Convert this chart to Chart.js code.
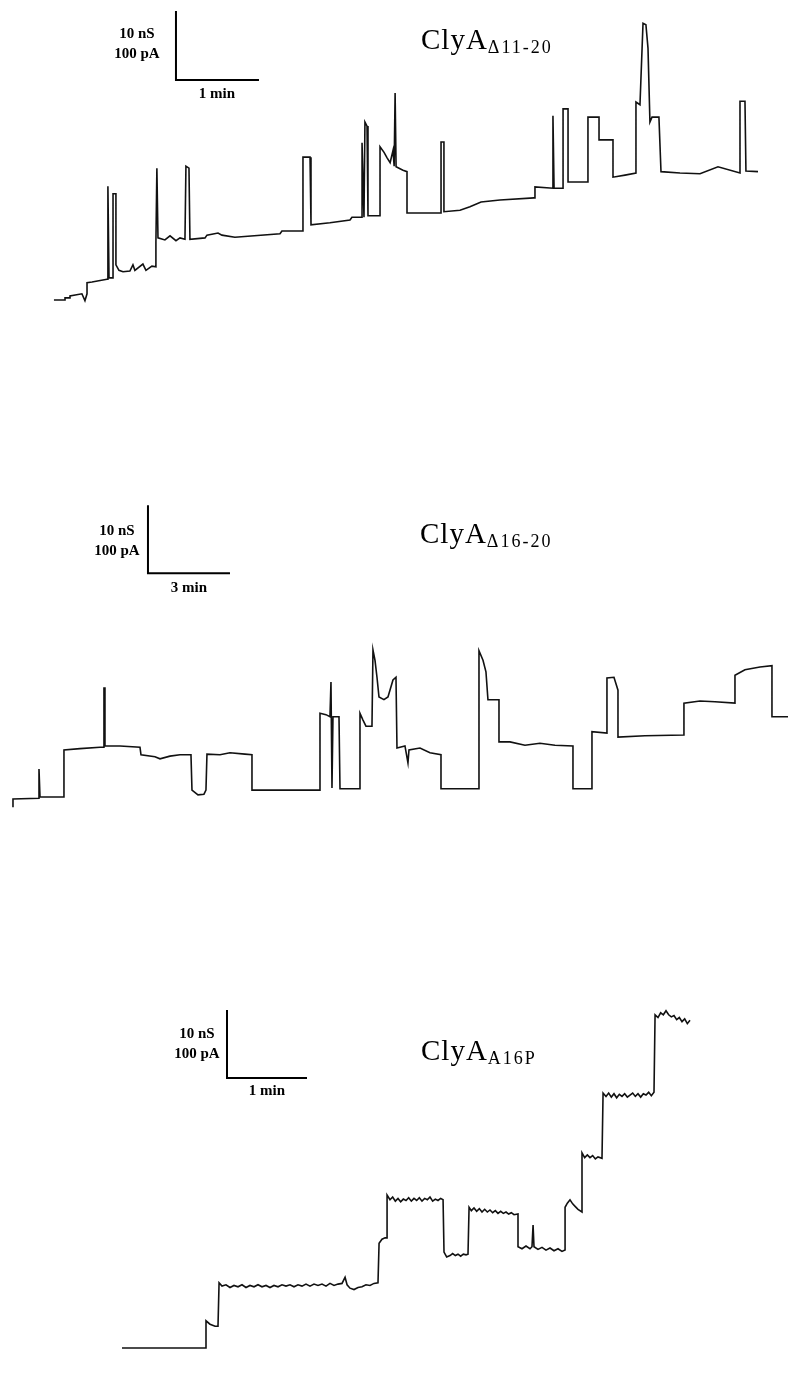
<!DOCTYPE html>
<html>
<head>
<meta charset="utf-8">
<script src="https://cdn.jsdelivr.net/npm/chart.js@4"></script>
<style>
  body { margin: 0; background: #fff; }
  #page { position: relative; width: 788px; height: 1378px; overflow: hidden; }
  canvas { position: absolute; left: 0; }
  .lbl { position: absolute; width: 80px; text-align: center; font: bold 15px "Liberation Serif", serif; line-height: 16px; color: #000; }
  .title { position: absolute; font: 29px "Liberation Serif", serif; line-height: 28px; color: #000; letter-spacing: 1px; white-space: nowrap; }
  .title sub { font-size: 18px; vertical-align: -4px; letter-spacing: 2px; }
</style>
</head>
<body>
<div id="page">
  <canvas id="chartD1120" width="788" height="340" style="top:0px"></canvas>
  <canvas id="chartD1620" width="788" height="360" style="top:480px"></canvas>
  <canvas id="chartA16P" width="788" height="418" style="top:960px"></canvas>

  <div class="lbl" style="left:97px; top:25px">10 nS</div>
  <div class="lbl" style="left:97px; top:45px">100 pA</div>
  <div class="lbl" style="left:177px; top:85px">1 min</div>
  <div class="title" style="left:421px; top:25px">ClyA<sub>Δ11-20</sub></div>

  <div class="lbl" style="left:77px; top:522px">10 nS</div>
  <div class="lbl" style="left:77px; top:542px">100 pA</div>
  <div class="lbl" style="left:149px; top:579px">3 min</div>
  <div class="title" style="left:420px; top:519px">ClyA<sub>Δ16-20</sub></div>

  <div class="lbl" style="left:157px; top:1025px">10 nS</div>
  <div class="lbl" style="left:157px; top:1045px">100 pA</div>
  <div class="lbl" style="left:227px; top:1082px">1 min</div>
  <div class="title" style="left:421px; top:1036px">ClyA<sub>A16P</sub></div>
</div>
<script>
// Conductance traces: time in s, conductance in nS
const timeD1120 = [
    0, 8.0, 8.0, 11.6, 11.6, 20.2, 22.4, 23.9, 23.9, 27.5,
    38.3, 39.0, 39.0, 39.8, 42.7, 42.7, 44.8, 44.8, 47.0, 49.9,
    54.9, 57.1, 58.5, 64.3, 66.5, 70.8, 73.7, 73.7, 74.4, 75.2,
    80.2, 83.9, 88.2, 91.1, 94.7, 95.4, 97.6, 98.3, 109.2, 110.6,
    118.6, 121.4, 130.8, 163.4, 164.8, 180.0, 180.0, 185.1, 185.8, 199.5,
    214.0, 215.4, 222.7, 222.7, 224.1, 224.8, 226.3, 227.0, 235.7, 235.7,
    238.6, 240.8, 243.0, 245.1, 245.9, 246.6, 247.3, 252.3, 255.2, 255.2,
    279.8, 279.8, 281.9, 281.9, 293.5, 300.7, 308.7, 322.4, 347.0, 347.7,
    360.7, 360.7, 361.5, 368.0, 368.0, 371.6, 371.6, 386.0, 386.0, 394.0,
    394.0, 404.1, 404.1, 412.8, 420.7, 420.7, 423.6, 425.8, 427.9, 429.4,
    430.8, 432.3, 437.3, 438.8, 452.5, 467.0, 480.0, 495.9, 495.9, 499.5, 500.2, 508.9
];
const condD1120 = [
    0, 0, 0.3, 0.3, 0.6, 0.9, -0.1, 0.9, 2.5, 2.6,
    3.0, 3.0, 16.5, 3.2, 3.2, 15.4, 15.4, 5.1, 4.3, 4.1,
    4.2, 5.1, 4.3, 5.2, 4.3, 4.9, 4.8, 8.4, 19.1, 9.0,
    8.7, 9.3, 8.6, 9.0, 8.8, 19.4, 19.1, 8.8, 9.0, 9.4,
    9.7, 9.4, 9.1, 9.6, 10.0, 10.0, 20.7, 20.7, 10.9, 11.2,
    11.6, 12.0, 12.0, 22.8, 12.0, 25.8, 25.2, 12.2, 12.2, 22.2,
    21.4, 20.6, 19.9, 21.7, 19.4, 30.0, 19.3, 18.8, 18.6, 12.6,
    12.6, 22.9, 22.9, 12.8, 13.0, 13.5, 14.2, 14.5, 14.8, 16.4,
    16.2, 26.7, 16.2, 16.2, 27.7, 27.7, 17.1, 17.1, 26.5, 26.5,
    23.2, 23.2, 17.8, 18.1, 18.4, 28.7, 28.3, 40.1, 39.9, 36.5,
    25.8, 26.5, 26.5, 18.6, 18.4, 18.3, 19.3, 18.4, 28.8, 28.8, 18.7, 18.6
];

const timeD1620 = [
    0, 0, 57.1, 57.1, 59.3, 111.9, 111.9, 147.1, 191.0, 199.7,
    199.7, 201.9, 201.9, 234.9, 278.8, 281.0, 311.7, 322.7, 344.6, 366.6,
    390.7, 392.9, 406.1, 419.2, 423.6, 425.8, 454.4, 476.3, 509.2, 524.6,
    524.6, 673.9, 673.9, 687.0, 695.8, 698.0, 700.2, 702.4, 715.6, 717.8,
    761.7, 761.7, 768.3, 774.8, 788.0, 790.2, 794.6, 799.0, 803.4, 814.3,
    823.1, 834.1, 840.7, 842.9, 860.4, 867.0, 869.2, 893.4, 915.3, 939.5,
    939.5, 1022.9, 1022.9, 1031.7, 1038.2, 1042.6, 1066.8, 1066.8, 1090.9, 1123.8,
    1156.7, 1189.7, 1229.2, 1229.2, 1270.9, 1270.9, 1303.8, 1303.8, 1319.2, 1328.0,
    1328.0, 1387.2, 1472.8, 1472.8, 1508.0, 1540.9, 1584.8, 1584.8, 1606.7, 1639.7, 1666.0, 1666.0, 1701.2
];
const condD1620 = [
    -1.2, 0, 0.1, 4.4, 0.3, 0.3, 7.2, 7.4, 7.6, 7.6,
    16.3, 16.3, 7.8, 7.8, 7.6, 6.5, 6.2, 5.9, 6.3, 6.5,
    6.5, 1.3, 0.6, 0.7, 1.3, 6.6, 6.5, 6.8, 6.6, 6.5,
    1.3, 1.3, 12.6, 12.4, 12.1, 17.2, 1.6, 12.1, 12.1, 1.5,
    1.5, 12.6, 11.6, 10.7, 10.7, 21.9, 20.4, 17.9, 15.0, 14.6,
    15.0, 17.5, 17.9, 7.5, 7.8, 5.3, 7.2, 7.5, 6.8, 6.5,
    1.5, 1.5, 21.8, 20.4, 18.7, 14.6, 14.6, 8.4, 8.4, 7.9,
    8.2, 7.9, 7.8, 1.5, 1.5, 9.9, 9.7, 17.8, 17.9, 16.0,
    9.1, 9.3, 9.4, 14.1, 14.4, 14.3, 14.1, 18.2, 19.0, 19.4, 19.6, 12.1, 12.1
];

const timeA16P = [
    0, 63, 63, 66, 69.8, 72,
    72.8, 75, 78, 81, 84, 87, 90, 93, 96, 99, 102, 105, 108, 111, 114, 117, 120, 123, 126, 129,
    132, 135, 138, 141, 144, 147, 150, 153, 156, 159, 162, 165, 167.3, 168.8, 171, 174, 177, 180,
    183, 186, 189, 192,
    192.8, 195, 197.3, 198.8,
    198.8, 201, 203, 205, 207, 209, 211, 213, 215, 217, 219, 221, 223, 225, 227, 229, 231, 233,
    235, 237, 239, 240.8,
    241.5, 243.5, 246, 248, 250, 252, 254, 256, 258, 259.5,
    260.3, 262, 264, 266, 268, 270, 272, 274, 276, 278, 280, 282, 284, 286, 288, 290, 292, 294, 297,
    297, 300, 303, 306, 307.5, 308.3, 309, 312, 315, 318, 321, 324, 327, 330, 332.3,
    332.3, 334, 336, 338, 340, 342, 345,
    345, 347, 349, 351, 353, 355, 357, 360,
    360.8, 363, 365, 367, 369, 371, 373, 375, 377, 379, 381, 383, 385, 387, 389, 391, 393, 395, 397, 399,
    399.8, 402, 404, 406, 408, 410, 412, 414, 416, 418, 420, 422, 424, 426
];
const condA16P = [
    0, 0, 4.0, 3.5, 3.2, 3.2,
    9.6, 9.1, 9.3, 8.9, 9.2, 9.0, 9.3, 8.9, 9.2, 9.0, 9.3, 9.0, 9.2, 8.9, 9.2, 9.0, 9.3, 9.1, 9.3, 9.0,
    9.3, 9.1, 9.4, 9.1, 9.4, 9.2, 9.4, 9.1, 9.5, 9.2, 9.4, 9.5, 10.4, 9.3, 8.8, 8.6, 8.9, 9.0,
    9.3, 9.2, 9.5, 9.6,
    15.4, 16.0, 16.2, 16.2,
    22.5, 21.8, 22.2, 21.6, 22.0, 21.5, 21.9, 21.7, 22.1, 21.6, 22.0, 21.7, 22.1, 21.6, 22.0, 21.8, 22.2, 21.6,
    21.9, 21.7, 22.0, 21.8,
    14.1, 13.4, 13.6, 13.9, 13.6, 13.8, 13.5, 13.8, 13.7, 13.8,
    20.7, 20.2, 20.6, 20.1, 20.5, 20.0, 20.4, 20.0, 20.3, 19.9, 20.2, 19.8, 20.1, 19.8, 20.0, 19.7, 19.9, 19.6, 19.7,
    14.9, 14.6, 15.0, 14.6, 14.9, 18.1, 14.9, 14.5, 14.8, 14.4, 14.7, 14.3, 14.6, 14.2, 14.4,
    20.7, 21.3, 21.8, 21.2, 20.8, 20.4, 20.0,
    28.7, 28.0, 28.4, 28.0, 28.3, 27.8, 28.1, 27.9,
    37.5, 37.0, 37.5, 36.9, 37.4, 36.8, 37.3, 37.0, 37.4, 36.9, 37.2, 37.5, 37.0, 37.4, 36.9, 37.4, 37.2, 37.6, 37.1, 37.6,
    49.0, 48.6, 49.3, 49.0, 49.6, 49.0, 48.7, 48.9, 48.3, 48.6, 48.0, 48.4, 47.7, 48.2
];

// Scale bars: [start time (s), start conductance (nS), length in s, length in nS]
const barD1120 = [88.2, 31.9, 60, 10];
const barD1620 = [296.3, 33.2, 180, 10];
const barA16P = [78.75, 39.7, 60, 10];

function createTrace(canvasId, times, values, bar, xRange, yRange) {
    const ctx = document.getElementById(canvasId).getContext("2d");
    const points = times.map((t, i) => ({ x: t, y: values[i] }));
    const barPoints = [
        { x: bar[0], y: bar[1] + bar[3] },
        { x: bar[0], y: bar[1] },
        { x: bar[0] + bar[2], y: bar[1] }
    ];
    new Chart(ctx, {
        type: "line",
        data: {
            datasets: [
                {
                    data: points,
                    borderColor: "#111",
                    borderWidth: 1.6,
                    pointRadius: 0,
                    tension: 0,
                    fill: false
                },
                {
                    data: barPoints,
                    borderColor: "#000",
                    borderWidth: 2,
                    pointRadius: 0,
                    tension: 0,
                    fill: false
                }
            ]
        },
        options: {
            responsive: false,
            animation: false,
            devicePixelRatio: 1,
            layout: { padding: 0 },
            plugins: {
                legend: { display: false },
                tooltip: { enabled: false }
            },
            scales: {
                x: { type: "linear", display: false, min: xRange[0], max: xRange[1] },
                y: { type: "linear", display: false, min: yRange[0], max: yRange[1] }
            }
        }
    });
}

createTrace("chartD1120", timeD1120, condD1120, barD1120, [-39.0, 530.6], [-5.80, 43.48]);
createTrace("chartD1620", timeD1620, condD1620, barD1620, [-28.5, 1701.2], [-6.03, 46.9]);
createTrace("chartA16P", timeA16P, condA16P, barA16P, [-91.5, 499.5], [-4.41, 57.06]);
</script>
</body>
</html>
